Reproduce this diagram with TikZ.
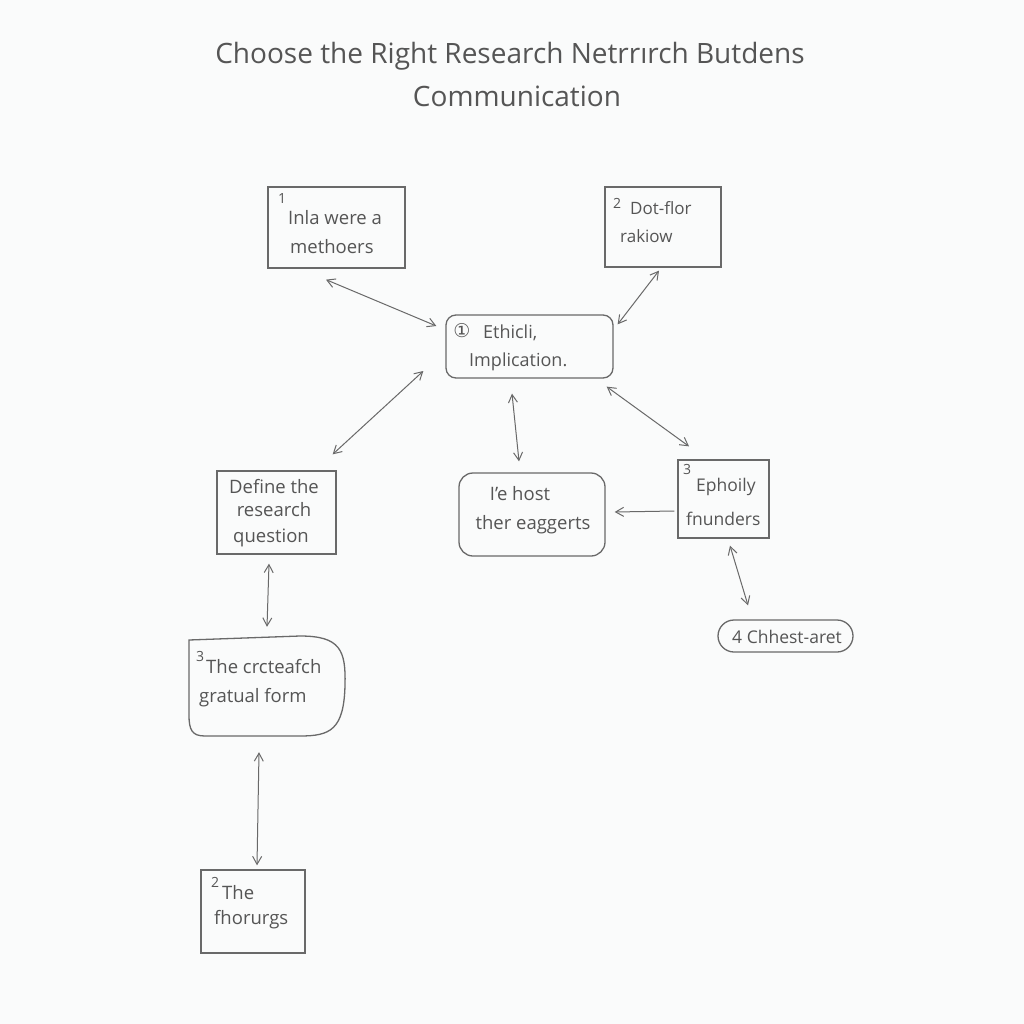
\documentclass[tikz,border=0pt]{standalone}
\usepackage{fontspec}
\setmainfont{Open Sans}
\newfontfamily\dvfont{DejaVu Sans}
\usetikzlibrary{arrows.meta,calc}
\definecolor{bg}{RGB}{250,251,251}
\definecolor{ink}{RGB}{85,85,85}
\definecolor{linec}{RGB}{105,105,105}
\begin{document}
\begin{tikzpicture}[x=1pt,y=-1pt,
  box/.style={draw=linec, line width=1.3pt, inner sep=0pt},
  rbox/.style={box, rounded corners=10pt},
  arr/.style={draw=linec, line width=1pt, {Straight Barb[length=8pt,width=9pt]}-{Straight Barb[length=8pt,width=9pt]}},
  arrone/.style={draw=linec, line width=1pt, -{Straight Barb[length=8pt,width=9pt]}},
  ttl/.style={text=ink, font=\fontsize{28}{30}\selectfont, inner sep=0pt},
  tx/.style={text=ink, font=\fontsize{18.5}{20}\selectfont, inner sep=0pt, anchor=west},
  txc/.style={text=ink, font=\fontsize{18.5}{20}\selectfont, inner sep=0pt},
  sup/.style={text=ink, font=\fontsize{14}{14}\selectfont, inner sep=0pt}
]
\fill[bg] (0,0) rectangle (1024,1024);
\useasboundingbox (0,0) rectangle (1024,1024);

\node[ttl] (t1) at (510,56) {Choose the Right Research Netrrırch Butdens};
\node[ttl] (t2) at (517,96) {Communication};

% box 1
\node[box, minimum width=137pt, minimum height=81pt] (b1) at (336.5,227.5) {};
\node[sup] (b1n) at (282,199) {1};
\node[tx] (b1a) at (288,218) {Inla were a};
\node[tx] (b1b) at (290,247) {methoers};

% box 2
\node[box, minimum width=116pt, minimum height=80pt] (b2) at (663,227) {};
\node[sup] (b2n) at (617,203) {2};
\node[tx, font=\fontsize{17}{20}\selectfont] (b2a) at (630,208) {Dot-flor};
\node[tx, font=\fontsize{17}{20}\selectfont] (b2b) at (620,236) {rakiow};

% centre
\node[rbox, minimum width=167pt, minimum height=63pt] (c) at (529.5,346.5) {};
\node[text=ink, inner sep=0pt, font=\dvfont\fontsize{19}{19}\selectfont] (cn) at (462,331) {①};
\node[tx, font=\fontsize{18}{20}\selectfont] (ca) at (483,333) {Ethicli,};
\node[tx, font=\fontsize{18}{20}\selectfont] (cb) at (469,362) {Implication.};

% define
\node[box, minimum width=119pt, minimum height=83pt] (def) at (276.5,512.5) {};
\node[txc] (da) at (274,487) {Define the};
\node[txc] (db) at (274,510) {research};
\node[txc] (dc) at (271,538) {question};

% mid
\node[rbox, rounded corners=14pt, minimum width=146pt, minimum height=83pt] (mid) at (532,514.5) {};
\node[txc] (ma) at (520,494) {I'e host};
\node[txc] (mb) at (533,525) {ther eaggerts};

% box 3
\node[box, minimum width=91pt, minimum height=78pt] (b3) at (723.5,499) {};
\node[sup] (b3n) at (687,469) {3};
\node[tx, font=\fontsize{17.5}{20}\selectfont] (b3a) at (696,487) {Ephoily};
\node[tx, font=\fontsize{17.5}{20}\selectfont] (b3b) at (686,519) {fnunders};

% pill
\node[box, rounded corners=16pt, minimum width=135pt, minimum height=32pt] (pill) at (785.5,636) {};
\node[txc, font=\fontsize{17.5}{20}\selectfont] (pt) at (787,637) {4 Chhest-aret};

% rounded box
\draw[linec, line width=1.3pt] (189,640) -- (300,636) .. controls (340,636) and (346,650) .. (345,685) .. controls (344,730) and (330,736) .. (300,736) -- (205,736) .. controls (192,736) and (189,730) .. (189,715) -- cycle;
\node[inner sep=0pt, minimum width=157pt, minimum height=100pt] (rnd) at (266.5,686) {};
\node[sup] (rn) at (200,656) {3};
\node[tx] (ra) at (206,667) {The crcteafch};
\node[tx] (rb) at (199,698) {gratual form};

% bottom
\node[box, minimum width=104pt, minimum height=83pt] (bot) at (253,911.5) {};
\node[sup] (botn) at (215,882) {2};
\node[tx] (bota) at (222,893) {The};
\node[tx] (botb) at (214,920) {fhorurgs};

\draw[arr] ([xshift=-10.5pt,yshift=-11pt]b1.south) -- ([xshift=-9pt,yshift=20.5pt]c.west);
\draw[arr] ([xshift=-4pt,yshift=-3pt]b2.south) -- ([xshift=4pt,yshift=-10pt]c.north east);
\draw[arr] ([xshift=-22pt,yshift=-24.5pt]c.west) -- ([xshift=-4pt,yshift=16pt]def.north east);
\draw[arr] ([xshift=-17.5pt,yshift=-15pt]c.south) -- ([xshift=-13pt,yshift=11pt]mid.north);
\draw[arr] ([xshift=-7pt,yshift=-8pt]c.south east) -- ([xshift=-34.5pt,yshift=13pt]b3.north);
\draw[arrone] ([xshift=-3pt,yshift=-12pt]b3.west) -- ([xshift=9pt,yshift=2.5pt]mid.east);
\draw[arr] ([xshift=6.5pt,yshift=-7pt]b3.south) -- ([xshift=-37.5pt,yshift=14pt]pill.north);
\draw[arr] ([xshift=-7.5pt,yshift=-9pt]def.south) -- ([xshift=0.5pt,yshift=9pt]rnd.north);
\draw[arr] ([xshift=-7.5pt,yshift=-16pt]rnd.south) -- ([xshift=4pt,yshift=4pt]bot.north);
\end{tikzpicture}
\end{document}
